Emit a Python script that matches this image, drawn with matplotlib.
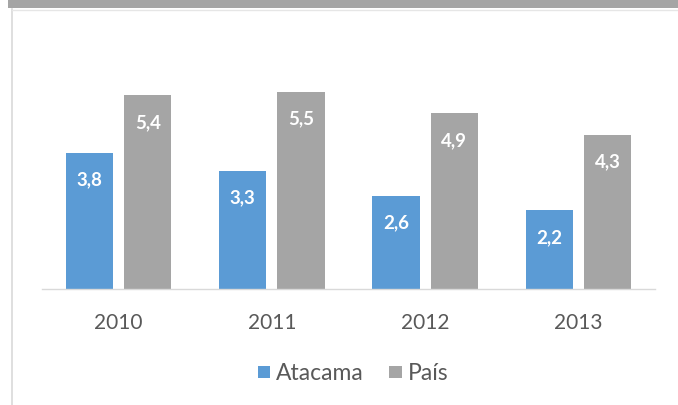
import matplotlib
matplotlib.use("Agg")
import matplotlib.pyplot as plt
from matplotlib.patches import Rectangle
from matplotlib.lines import Line2D
import numpy as np

years = ["2010", "2011", "2012", "2013"]
atacama = [3.8, 3.3, 2.6, 2.2]
pais = [5.4, 5.5, 4.9, 4.3]
series_names = ["Atacama", "País"]

plt.rcParams["font.family"] = ["Lato", "DejaVu Sans"]

W, H = 678, 405
fig = plt.figure(figsize=(W / 100, H / 100), dpi=100)
fig.patch.set_facecolor("white")

# screenshot frame: gray band on top, light border on the left
fig.patches.append(Rectangle((8 / W, 1 - 8 / H), 1, 8 / H, transform=fig.transFigure,
                             facecolor="#a5a5a5", edgecolor="none"))
fig.lines.append(Line2D([11.5 / W, 11.5 / W], [0, 1 - 9 / H], transform=fig.transFigure,
                        color="#d9d9d9", lw=1.2))
fig.lines.append(Line2D([11.5 / W, 1], [1 - 9.5 / H, 1 - 9.5 / H], transform=fig.transFigure,
                        color="#e6e6e6", lw=1.0))

px = 35.9  # pixels per unit
ax = fig.add_axes([42 / W, (H - 289) / H, (655 - 42) / W, 6 * px / H])
x = np.arange(len(years))
w = 0.307
off = 0.19
b1 = ax.bar(x - off, atacama, w, color="#5b9bd5", label=series_names[0])
b2 = ax.bar(x + off, pais, w, color="#a5a5a5", label=series_names[1])

for bars, vals in ((b1, atacama), (b2, pais)):
    for r, v in zip(bars, vals):
        ax.annotate(f"{v:.1f}".replace(".", ","), (r.get_x() + r.get_width() / 2, v),
                    xytext=(0, -13.5), textcoords="offset points", ha="center", va="top",
                    color="white", fontsize=13.5, fontweight="bold")

ax.set_xlim(-0.5, 3.5)
ax.set_ylim(0, 6)
ax.set_xticks(x)
ax.set_xticklabels(years, fontsize=15, color="#595959")
ax.tick_params(axis="x", length=0, pad=17)
ax.set_yticks([])
for s in ("top", "right", "left"):
    ax.spines[s].set_visible(False)
ax.spines["bottom"].set_color("#d9d9d9")
ax.spines["bottom"].set_linewidth(1.0)

fig.legend(loc="center", bbox_to_anchor=(353 / W, 1 - 374 / H), ncol=2, frameon=False,
           fontsize=16.5, labelcolor="#595959", handlelength=0.55, handleheight=0.45,
           handletextpad=0.25, columnspacing=1.1)

fig.savefig("out.png", dpi=100)
